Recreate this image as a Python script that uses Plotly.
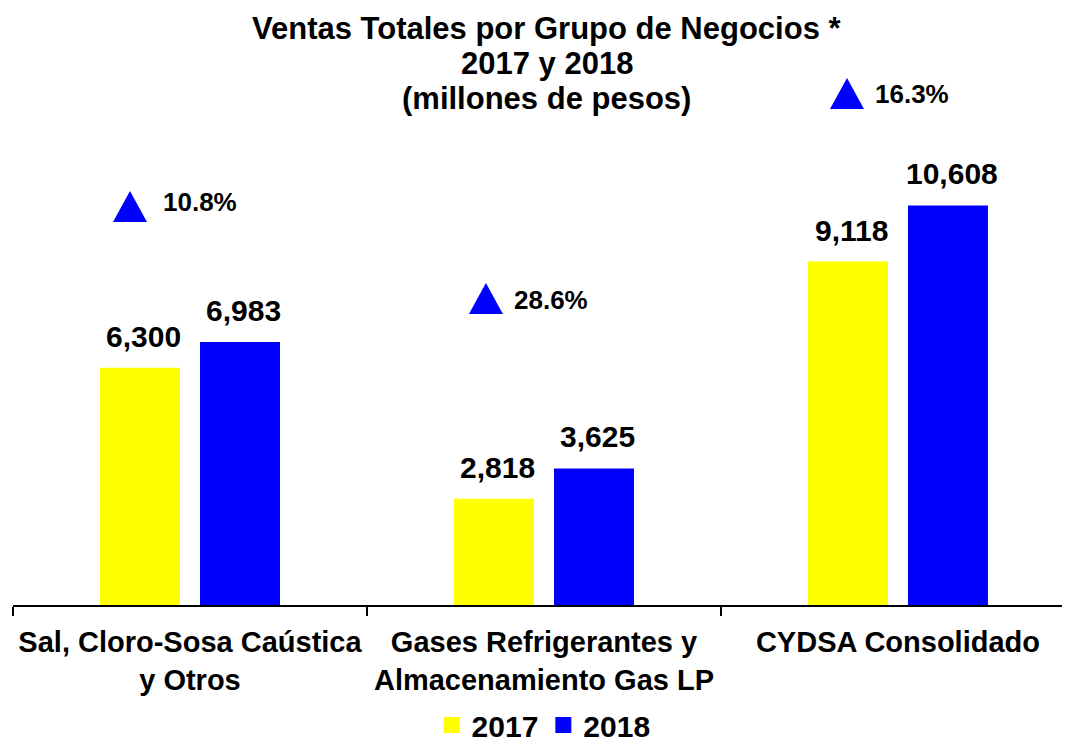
import plotly.graph_objects as go

# ---------------- data ----------------
categories = ["Sal, Cloro-Sosa Caústica<br>y Otros",
              "Gases Refrigerantes y<br>Almacenamiento Gas LP",
              "CYDSA Consolidado"]
ventas_2017 = [6300, 2818, 9118]
ventas_2018 = [6983, 3625, 10608]
crecimiento = ["10.8%", "28.6%", "16.3%"]
series_names = ["2017", "2018"]
title_lines = ["Ventas Totales por Grupo de Negocios *", "2017 y 2018", "(millones de pesos)"]

# ---------------- layout constants ----------------
FONT = "Liberation Sans, Arial, sans-serif"
YELLOW = "#FFFF00"
BLUE = "#0000FF"
W, H = 1062, 737          # page body has an 8px margin
# triangle marks: x as category index, y (base) in axis units
tri_x = [-0.1695, 0.836, 1.856]
tri_base = [10170, 7727, 13170]
pct_x = [-0.0763, 0.9153, 1.935]
pct_y = [10688, 8099, 13569]

fig = go.Figure()
fig.add_trace(go.Bar(x=categories, y=ventas_2017, name=series_names[0], showlegend=False,
                     marker=dict(color=YELLOW, line=dict(width=0))))
fig.add_trace(go.Bar(x=categories, y=ventas_2018, name=series_names[1], showlegend=False,
                     marker=dict(color=BLUE, line=dict(width=0))))
# legend entries with larger square symbols
for nm, col in zip(series_names, (YELLOW, BLUE)):
    fig.add_trace(go.Scatter(x=[None], y=[None], mode="markers", name=nm,
                             marker=dict(symbol="square", size=16, color=col,
                                         line=dict(width=0)), hoverinfo="skip"))

shapes = []
for xi, yb in zip(tri_x, tri_base):
    shapes.append(dict(type="path", xref="x", yref="y", xsizemode="pixel", ysizemode="pixel",
                       xanchor=xi, yanchor=yb, path="M-17,0 L17,0 L0,31 Z",
                       fillcolor=BLUE, line=dict(width=0)))

annotations = []
# value labels
for i in range(len(categories)):
    for vals, shift in ((ventas_2017, -46), (ventas_2018, 54)):
        annotations.append(dict(
            x=i, y=vals[i], xref="x", yref="y", xshift=shift, yshift=13,
            text=f"{vals[i]:,}", showarrow=False, xanchor="center", yanchor="bottom",
            font=dict(family=FONT, size=30, color="black", weight="bold")))
# percent labels
for i in range(len(categories)):
    annotations.append(dict(
        x=pct_x[i], y=pct_y[i], xref="x", yref="y", xshift=-2,
        text=crecimiento[i], showarrow=False, xanchor="left", yanchor="middle",
        font=dict(family=FONT, size=26, color="black", weight="bold")))
# title lines
title_py = [28, 63, 98]
for line, py in zip(title_lines, title_py):
    annotations.append(dict(
        x=0.505, y=(605 - py) / 565, xref="paper", yref="paper",
        text=line, showarrow=False, xanchor="center", yanchor="middle",
        font=dict(family=FONT, size=31, color="black", weight="bold")))

fig.update_layout(
    width=W, height=H,
    margin=dict(l=5, r=0, t=32, b=140, autoexpand=False),
    paper_bgcolor="white", plot_bgcolor="white",
    barmode="group", bargap=0.435, bargroupgap=0.2,
    showlegend=True,
    legend=dict(orientation="h", x=0.502, xanchor="center",
                yref="container", y=0.027, yanchor="middle",
                font=dict(family=FONT, size=30, color="black", weight="bold"),
                bgcolor="rgba(0,0,0,0)", itemsizing="trace"),
    xaxis=dict(type="category", range=[-0.5, 2.486], showline=True, linecolor="black",
               linewidth=2, ticks="outside", tickson="boundaries", ticklen=9,
               tickcolor="black", tickwidth=1.5, showgrid=False, zeroline=False,
               automargin=False, ticklabelstandoff=10,
               tickfont=dict(family=FONT, size=29, color="black", weight="bold")),
    yaxis=dict(range=[0, 15000], visible=False, showgrid=False, zeroline=False),
    shapes=shapes,
    annotations=annotations,
)

fig.write_html("out.html")
